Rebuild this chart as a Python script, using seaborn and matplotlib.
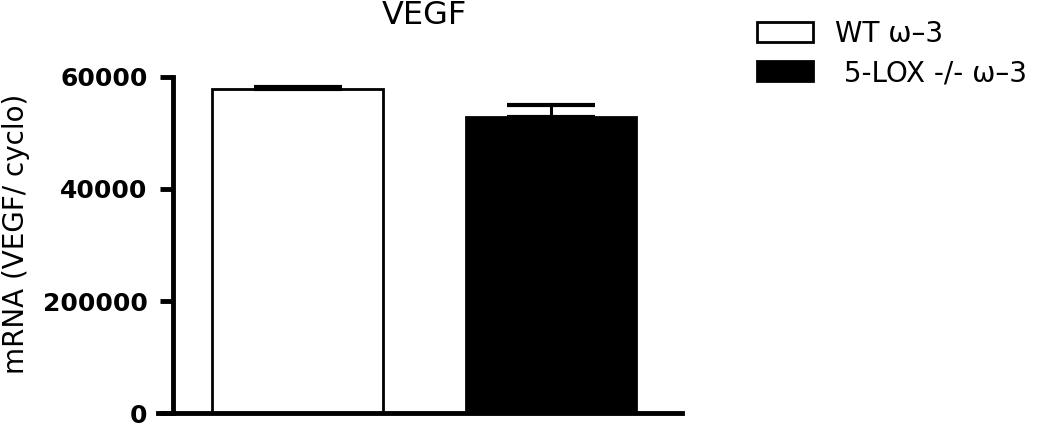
import numpy as np
import pandas as pd
import matplotlib
matplotlib.use("Agg")
import matplotlib.pyplot as plt
import seaborn as sns

# data
groups = ["WT ω–3", " 5-LOX -/- ω–3"]
means = [57750, 52730]
sem = [450, 2270]
ytick_vals = [0, 20000, 40000, 60000]
ytick_labels = ["0", "200000", "40000", "60000"]

sns.set_style("ticks")
plt.rcParams["font.family"] = ["DejaVu Sans"]
for key in ["text.color", "axes.labelcolor", "xtick.color", "ytick.color", "axes.edgecolor"]:
    plt.rcParams[key] = "black"

df = pd.DataFrame({"group": groups, "mrna": means})

fig = plt.figure(figsize=(10.5, 4.26), dpi=100)
ax = fig.add_axes([158 / 1050, 1 - 413.3 / 426, 524 / 1050, 336.6 / 426])

sns.barplot(
    data=df,
    x="group",
    y="mrna",
    hue="group",
    palette=["white", "black"],
    edgecolor="black",
    linewidth=2,
    width=0.672,
    legend=True,
    ax=ax,
)

ax.errorbar(
    x=np.arange(len(groups)),
    y=means,
    yerr=[np.zeros(len(sem)), sem],
    fmt="none",
    ecolor="black",
    elinewidth=2.2,
    capsize=31.7,
    capthick=3,
    zorder=5,
)

ax.set_xlim(-0.551, 1.518)
ax.set_ylim(0, 60000)
ax.spines["left"].set_position(("data", -0.492))
for side in ["top", "right"]:
    ax.spines[side].set_visible(False)
for side in ["left", "bottom"]:
    ax.spines[side].set_linewidth(3.5)

ax.set_xticks([])
ax.set_xlabel("")
ax.set_yticks(ytick_vals)
ax.set_yticklabels(ytick_labels, fontsize=18, fontweight="bold")
ax.tick_params(axis="y", length=9.4, width=3.5, pad=9)

ax.set_ylabel("mRNA (VEGF/ cyclo)", fontsize=20)
ax.yaxis.set_label_coords(-0.244, 0.534)

fig.text(424 / 1050, 1 - 16 / 426, "VEGF", ha="center", va="center", fontsize=23)

handles, labels = ax.get_legend_handles_labels()
ax.legend(
    handles,
    labels,
    loc="upper left",
    bbox_to_anchor=(757 / 1050, 1 - 20 / 426),
    bbox_transform=fig.transFigure,
    frameon=False,
    fontsize=20,
    handlelength=2.0,
    handleheight=0.72,
    handletextpad=0.8,
    labelspacing=0.4,
    borderpad=0,
    borderaxespad=0,
)

fig.savefig("out.png", dpi=100)
